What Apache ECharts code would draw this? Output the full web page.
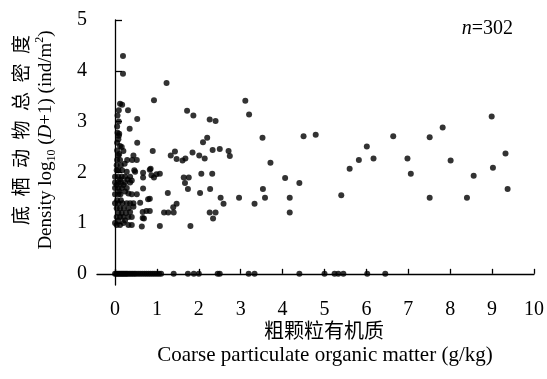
<!DOCTYPE html>
<html>
<head>
<meta charset="utf-8">
<script src="https://cdn.jsdelivr.net/npm/echarts@6.0.0/dist/echarts.min.js"></script>
<style>
  html, body { margin: 0; padding: 0; background: #fff; }
  #chart { width: 547px; height: 379px; }
</style>
</head>
<body>
<div id="chart"></div>
<script>
// tick values
const xTicks = [0, 1, 2, 3, 4, 5, 6, 7, 8, 9, 10];
const yTicks = [0, 1, 2, 3, 4, 5];

// samples with zero density (y = 0)
const zeroX = [
  0.0, 0.03, 0.06, 0.09, 0.12, 0.15, 0.18, 0.21, 0.24, 0.27, 0.3, 0.34, 0.38,
  0.42, 0.46, 0.5, 0.55, 0.6, 0.65, 0.7, 0.75, 0.8, 0.85, 0.9, 0.95, 1.0, 1.05,
  1.1, 1.4, 1.74, 1.88, 2.0, 2.45, 2.5, 3.19, 3.33, 4.4, 5.0, 5.24, 5.33, 5.45,
  6.02, 6.45
];

// dense column at low CPOM
const clusterPts = [
  [0.19, 4.29], [0.19, 3.94], [0.12, 3.35], [0.17, 3.33], [0.09, 3.22], [0.31, 3.22],
  [0.06, 3.12], [0.53, 3.05], [0.09, 3.0], [0.05, 2.9], [0.35, 2.86], [0.06, 2.78],
  [0.10, 2.76], [0.09, 2.72], [0.08, 2.65], [0.05, 2.58], [0.53, 2.58], [0.12, 2.52],
  [0.16, 2.50], [0.05, 2.43], [0.20, 2.42], [0.90, 2.42], [0.10, 2.36], [0.08, 2.33],
  [0.44, 2.33], [0.05, 2.24], [0.12, 2.24], [0.29, 2.24], [0.41, 2.24], [0.52, 2.24],
  [0.23, 2.17], [0.04, 2.14], [0.14, 2.14], [0.85, 2.07], [0.04, 2.04], [0.08, 2.04],
  [0.17, 2.04], [0.46, 2.04], [0.28, 2.01], [0.48, 2.01], [0.83, 2.05], [0.67, 1.99],
  [0.87, 1.94], [0.99, 1.96], [0.0, 1.91], [0.08, 1.91], [0.16, 1.91], [0.24, 1.91],
  [0.36, 1.91], [0.67, 1.90], [0.93, 1.90], [0.12, 1.86], [0.30, 1.86], [0.40, 1.84],
  [0.0, 1.80], [0.08, 1.80], [0.14, 1.80], [0.24, 1.80], [0.36, 1.80], [0.04, 1.75],
  [0.20, 1.75], [0.0, 1.69], [0.08, 1.69], [0.16, 1.69], [0.28, 1.69], [0.67, 1.68],
  [0.10, 1.62], [0.24, 1.62], [0.32, 1.58], [0.0, 1.57], [0.08, 1.57], [0.13, 1.57],
  [0.40, 1.57], [0.52, 1.57], [0.83, 1.48], [0.79, 1.47], [0.05, 1.45], [0.14, 1.45],
  [0.60, 1.40], [0.0, 1.39], [0.08, 1.39], [0.18, 1.39], [0.28, 1.39], [0.36, 1.39],
  [0.44, 1.39], [0.44, 1.32], [0.04, 1.29], [0.12, 1.29], [0.21, 1.29], [0.32, 1.29],
  [0.75, 1.24], [0.83, 1.24], [0.36, 1.22], [0.66, 1.22], [0.08, 1.20], [0.16, 1.20],
  [0.26, 1.20], [0.04, 1.12], [0.12, 1.12], [0.20, 1.12], [0.32, 1.12], [0.40, 1.12],
  [0.66, 1.10], [0.69, 1.09], [0.08, 1.05], [0.24, 1.05], [0.0, 1.0], [0.20, 1.0],
  [0.04, 0.96], [0.12, 0.96], [0.32, 0.96], [0.40, 0.96], [0.64, 0.93]
];

// scattered points further right
const spreadPts = [
  [0.93, 3.42], [1.23, 3.76], [1.72, 3.21], [1.87, 3.12], [2.26, 3.04], [2.40, 3.01],
  [2.20, 2.68], [2.10, 2.59], [1.43, 2.41], [1.33, 2.33], [1.47, 2.26], [1.61, 2.23],
  [1.68, 2.27], [1.85, 2.39], [2.01, 2.33], [2.14, 2.27], [2.33, 2.44], [2.50, 2.46],
  [2.71, 2.42], [2.74, 2.32], [1.07, 1.97], [1.64, 1.90], [1.76, 1.90], [1.67, 1.79],
  [1.74, 1.67], [2.06, 1.97], [2.32, 1.97], [2.27, 1.67], [1.26, 1.59], [2.03, 1.59],
  [2.52, 1.50], [2.59, 1.38], [1.47, 1.38], [1.39, 1.31], [1.17, 1.21], [1.27, 1.21],
  [1.40, 1.21], [2.26, 1.21], [2.40, 1.21], [2.34, 1.09], [1.07, 0.94], [1.80, 0.94],
  [3.11, 3.41], [3.20, 3.14], [3.52, 2.68], [4.50, 2.71], [4.79, 2.74], [6.01, 2.51],
  [5.82, 2.24], [6.17, 2.27], [5.60, 2.07], [3.71, 2.19], [4.06, 1.89], [4.40, 1.79],
  [3.53, 1.67], [2.96, 1.50], [3.58, 1.50], [4.17, 1.50], [3.33, 1.38], [4.17, 1.21],
  [5.40, 1.55], [6.64, 2.71], [7.51, 2.69], [7.82, 2.88], [8.99, 3.10], [6.98, 2.27],
  [8.01, 2.23], [9.32, 2.37], [7.06, 1.97], [8.56, 1.93], [9.02, 2.09], [9.37, 1.67],
  [7.51, 1.50], [8.40, 1.50]
];

const FONT = '"Liberation Serif", "Times New Roman", "Noto Sans CJK SC", serif';
const CJK = '"Noto Sans CJK SC", sans-serif';

const allPts = zeroX.map((x) => [x, 0]).concat(clusterPts, spreadPts);

const chart = echarts.init(document.getElementById('chart'), null, { renderer: 'canvas' });

chart.setOption({
  animation: false,
  backgroundColor: '#fff',
  grid: { left: 97, right: 11, top: 20, bottom: 94 },
  xAxis: {
    type: 'value',
    min: -0.43,
    max: 10,
    axisLine: { lineStyle: { color: '#000', width: 1.3 } },
    axisTick: { show: true, inside: true, length: 5, customValues: xTicks, lineStyle: { color: '#000', width: 1.3 } },
    axisLabel: { customValues: xTicks, color: '#000', fontSize: 20, fontFamily: FONT, margin: 15 },
    splitLine: { show: false }
  },
  yAxis: {
    type: 'value',
    min: -0.22,
    max: 5,
    axisLine: { show: true, lineStyle: { color: '#000', width: 1.3 } },
    axisTick: { show: true, inside: true, length: 7, customValues: yTicks, lineStyle: { color: '#000', width: 1.3 } },
    axisLabel: { customValues: yTicks, color: '#000', fontSize: 20, fontFamily: FONT, margin: 10 },
    splitLine: { show: false }
  },
  series: [
    {
      type: 'scatter',
      data: allPts,
      symbol: 'circle',
      symbolSize: 6,
      itemStyle: { color: '#000' },
      silent: true
    }
  ],
  graphic: [
    {
      type: 'text',
      x: 21, y: 130, rotation: Math.PI / 2,
      style: { text: '底\u2002栖\u2002动\u2002物\u2002总\u2002密\u2002度', font: '19px ' + CJK, fill: '#000', align: 'center', verticalAlign: 'middle' }
    },
    {
      type: 'text',
      x: 46, y: 140, rotation: Math.PI / 2,
      style: {
        text: '{a|Density log}{sub|10}{a| (}{i|D}{a|+1) (ind/m}{sup|2}{a|)}',
        align: 'center', verticalAlign: 'middle', fill: '#000',
        rich: {
          a: { fontSize: 19, fontFamily: FONT, lineHeight: 24, fill: '#000' },
          i: { fontSize: 19, fontFamily: FONT, fontStyle: 'italic', lineHeight: 24, fill: '#000' },
          sub: { fontSize: 12, fontFamily: FONT, verticalAlign: 'bottom', lineHeight: 24, fill: '#000' },
          sup: { fontSize: 12, fontFamily: FONT, verticalAlign: 'top', lineHeight: 24, fill: '#000' }
        }
      }
    },
    {
      type: 'text',
      x: 324, y: 330,
      style: { text: '粗颗粒有机质', font: '20px ' + CJK, fill: '#000', align: 'center', verticalAlign: 'middle' }
    },
    {
      type: 'text',
      x: 325, y: 355,
      style: { text: 'Coarse particulate organic matter (g/kg)', font: '21px ' + FONT, fill: '#000', align: 'center', verticalAlign: 'middle' }
    },
    {
      type: 'text',
      x: 513, y: 29,
      style: {
        text: '{i|n}{a|=302}', align: 'right', verticalAlign: 'middle',
        rich: {
          i: { fontSize: 20, fontFamily: FONT, fontStyle: 'italic', fill: '#000' },
          a: { fontSize: 20, fontFamily: FONT, fill: '#000' }
        }
      }
    }
  ]
});
</script>
</body>
</html>
